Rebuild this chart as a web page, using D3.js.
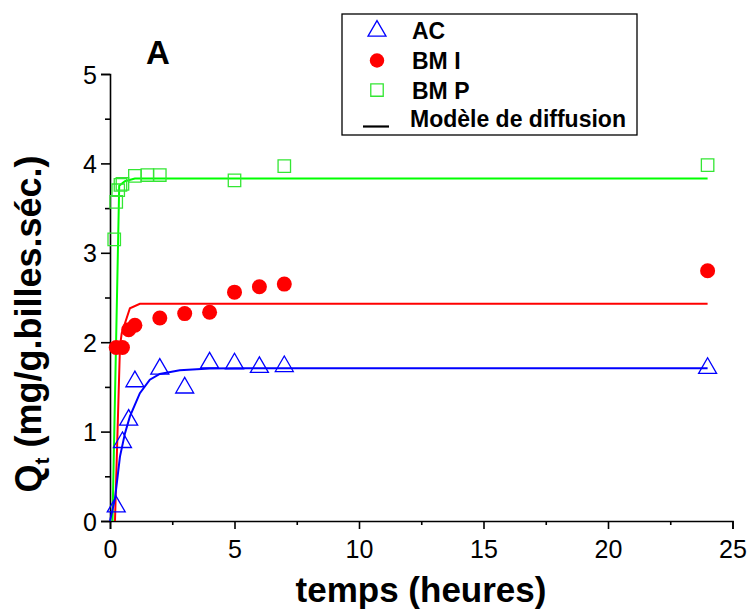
<!DOCTYPE html>
<html><head><meta charset="utf-8">
<script src="https://cdn.jsdelivr.net/npm/d3@7"></script>
<style>
body{margin:0;background:#fff;}
text{font-family:"Liberation Sans",Arial,sans-serif;}
</style></head>
<body>
<svg id="chart" width="748" height="615"></svg>
<script>
// Measured data
const acT  = [0.25,0.5,0.75,1,2,3,4,5,6,7,24];
const acQ  = [0.16,0.88,1.13,1.56,1.70,1.49,1.77,1.76,1.72,1.73,1.71];
const bmiT = [0.25,0.5,0.75,1,2,3,4,5,6,7,24];
const bmiQ = [1.94,1.94,2.14,2.19,2.27,2.32,2.335,2.56,2.62,2.65,2.80];
const bmpT = [0.17,0.25,0.33,0.42,0.5,1,1.5,2,5,7,24];
const bmpQ = [3.15,3.57,3.70,3.76,3.77,3.86,3.87,3.87,3.81,3.97,3.98];
// Diffusion model curves
const acModelT  = [0,0.2,0.4,0.6,0.8,1.2,1.6,2,2.8,4,5,24];
const acModelQ  = [0,0.25,0.72,0.98,1.17,1.43,1.58,1.645,1.685,1.705,1.71,1.71];
const bmiModelT = [0.2,0.4,0.47,0.8,1.2,24];
const bmiModelQ = [0,1.95,2.1,2.38,2.43,2.43];
const bmpModelT = [0.1,0.37,0.6,1,24];
const bmpModelQ = [0,3.75,3.8,3.83,3.83];
const xTicks = [0,5,10,15,20,25];
const yTicks = [0,1,2,3,4,5];
const legendLabels = ["AC","BM I","BM P","Modèle de diffusion"];

const svg = d3.select("#chart");
const x = d3.scaleLinear().domain([0,25]).range([110,732.5]);
const y = d3.scaleLinear().domain([0,5]).range([521,74]);

const BLUE="#0000ff", RED="#ff0000", GREEN="#00ff00";

// axes
const xAxis = svg.append("g").attr("transform","translate(0,521)")
  .call(d3.axisBottom(x).tickValues(xTicks).tickSize(8).tickPadding(5).tickFormat(d3.format("d")));
svg.append("g").attr("transform","translate(0,521)")
  .call(d3.axisBottom(x).tickValues([2.5,7.5,12.5,17.5,22.5]).tickSize(4).tickFormat(""))
  .call(g=>g.select(".domain").remove());
const yAxis = svg.append("g").attr("transform","translate(110,0)")
  .call(d3.axisLeft(y).tickValues(yTicks).tickSize(9).tickPadding(4).tickFormat(d3.format("d")));
svg.append("g").attr("transform","translate(110,0)")
  .call(d3.axisLeft(y).tickValues([0.5,1.5,2.5,3.5,4.5]).tickSize(5).tickFormat(""))
  .call(g=>g.select(".domain").remove());
svg.selectAll(".domain").attr("stroke","#000").attr("stroke-width",1.6);
svg.selectAll(".tick line").attr("stroke","#000").attr("stroke-width",1.6);
svg.selectAll(".tick text").attr("font-size",25).attr("fill","#000")
  .attr("font-family","'Liberation Sans',Arial,sans-serif");
xAxis.selectAll(".tick text").attr("dy","0.95em");
yAxis.selectAll(".tick text").attr("dy","0.36em");

// model lines
const line = d3.line().x(d=>x(d[0])).y(d=>y(d[1]));
function drawLine(ts,qs,color){
  svg.append("path").datum(ts.map((t,i)=>[t,qs[i]]))
    .attr("d",line).attr("fill","none").attr("stroke",color).attr("stroke-width",2);
}
drawLine(bmpModelT,bmpModelQ,GREEN);
drawLine(bmiModelT,bmiModelQ,RED);
drawLine(acModelT,acModelQ,BLUE);

// markers
const triSym = d3.symbol().type(d3.symbolTriangle).size(140);
const sqSym = d3.symbol().type(d3.symbolSquare).size(155);
svg.append("g").selectAll("path").data(acT.map((t,i)=>[t,acQ[i]])).join("path")
  .attr("d",triSym).attr("transform",d=>`translate(${x(d[0])},${y(d[1])})`)
  .attr("fill","none").attr("stroke",BLUE).attr("stroke-width",1.3);
svg.append("g").selectAll("circle").data(bmiT.map((t,i)=>[t,bmiQ[i]])).join("circle")
  .attr("cx",d=>x(d[0])).attr("cy",d=>y(d[1])).attr("r",7.5).attr("fill",RED);
svg.append("g").selectAll("path").data(bmpT.map((t,i)=>[t,bmpQ[i]])).join("path")
  .attr("d",sqSym).attr("transform",d=>`translate(${x(d[0])},${y(d[1])})`)
  .attr("fill","none").attr("stroke","#33e633").attr("stroke-width",1.3);

// axis titles
svg.append("text").attr("x",421).attr("y",602).attr("text-anchor","middle")
  .attr("font-size",35).attr("font-weight","bold").text("temps (heures)");
const yt = svg.append("text").attr("transform","translate(41,324) rotate(-90)")
  .attr("text-anchor","middle").attr("font-size",36).attr("font-weight","bold");
yt.append("tspan").text("Q");
yt.append("tspan").attr("font-size",21).attr("dy",8).text("t");
yt.append("tspan").attr("dy",-8).text(" (mg/g.billes.séc.)");

// panel letter
svg.append("text").attr("x",146).attr("y",64).attr("font-size",33).attr("font-weight","bold").text("A");

// legend
const lg = svg.append("g");
lg.append("rect").attr("x",342).attr("y",14).attr("width",295).attr("height",121)
  .attr("fill","#fff").attr("stroke","#000").attr("stroke-width",1.3);
const ly = [39.3,69.3,99.3,127.3];
lg.append("path").attr("d",triSym).attr("transform","translate(377,31)")
  .attr("fill","none").attr("stroke",BLUE).attr("stroke-width",1.3);
lg.append("circle").attr("cx",377).attr("cy",60.5).attr("r",7.2).attr("fill",RED);
lg.append("path").attr("d",sqSym).attr("transform","translate(377,90)")
  .attr("fill","none").attr("stroke","#33e633").attr("stroke-width",1.3);
lg.append("line").attr("x1",363).attr("x2",389).attr("y1",126.5).attr("y2",126.5)
  .attr("stroke","#000").attr("stroke-width",2.2);
lg.selectAll("text.lt").data(legendLabels).join("text").attr("class","lt")
  .attr("x",(d,i)=>i===3?410:412).attr("y",(d,i)=>ly[i])
  .attr("font-size",23).attr("font-weight","bold").text(d=>d);
</script>
</body></html>
